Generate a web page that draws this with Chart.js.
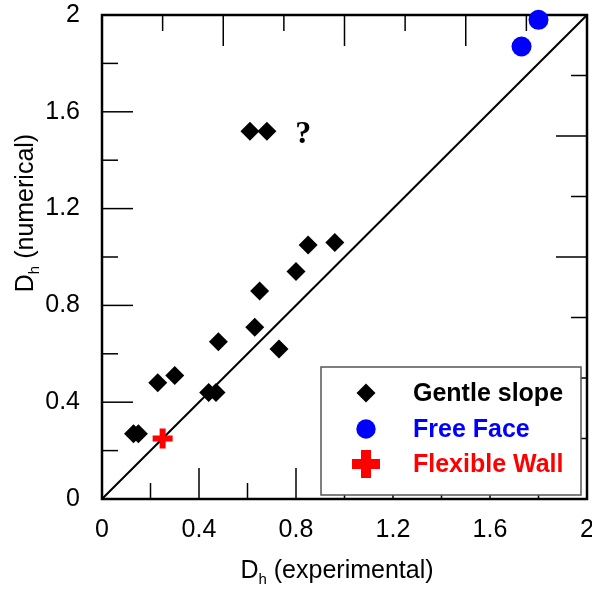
<!DOCTYPE html>
<html lang="en">
<head>
  <meta charset="UTF-8">
  <title>Dh numerical vs experimental</title>
  <script src="https://cdn.jsdelivr.net/npm/chart.js"></script>
</head>
<style>
  body { margin: 0; background: #fff; }
  .chart-container { width: 592px; height: 589px; }
</style>
<body>
  <div class="chart-container">
    <canvas id="chartCanvas" width="592" height="589"></canvas>
  </div>

  <script>
    // valores
    const gentleX = [0.13, 0.15, 0.23, 0.30, 0.44, 0.47, 0.48, 0.63, 0.65, 0.73, 0.80, 0.85, 0.96, 0.61, 0.68];
    const gentleY = [0.27, 0.27, 0.48, 0.51, 0.44, 0.44, 0.65, 0.71, 0.86, 0.62, 0.94, 1.05, 1.06, 1.52, 1.52];
    const freeFaceX = [1.73, 1.80];
    const freeFaceY = [1.87, 1.98];
    const flexWallX = [0.25];
    const flexWallY = [0.25];
    const diagX = [0, 2];
    const diagY = [0, 2];

    const seriesNames = ['Gentle slope', 'Free Face', 'Flexible Wall'];
    const xTitle = ['D', 'h', ' (experimental)'];
    const yTitle = ['D', 'h', ' (numerical)'];
    const note = { x: 0.83, y: 1.47, text: '?' };

    // marcas de los ejes: abajo/izquierda cada 0.2, arriba/derecha cada 0.25
    const bottomMajor = [0.4, 0.8, 1.2, 1.6];
    const bottomMinor = [0.2, 0.6, 1.0, 1.4, 1.8];
    const topMajor = [0.5, 1.0, 1.5];
    const topMinor = [0.25, 0.75, 1.25, 1.75];

    const toPoints = (xs, ys) => xs.map((x, i) => ({ x: x, y: ys[i] }));
    const fmt = v => String(Math.round(v * 10) / 10);

    const FONT = '"Liberation Sans", Arial, sans-serif';

    const framePlugin = {
      id: 'frame',
      beforeDatasetsDraw(chart) {
        const ctx = chart.ctx;
        const a = chart.chartArea;
        const xs = chart.scales.x, ys = chart.scales.y;
        ctx.save();
        ctx.strokeStyle = '#000';
        ctx.lineWidth = 1.5;
        const tick = (vals, len, side) => {
          vals.forEach(v => {
            ctx.beginPath();
            if (side === 'bottom') { const p = xs.getPixelForValue(v); ctx.moveTo(p, a.bottom); ctx.lineTo(p, a.bottom - len); }
            if (side === 'top') { const p = xs.getPixelForValue(v); ctx.moveTo(p, a.top); ctx.lineTo(p, a.top + len); }
            if (side === 'left') { const p = ys.getPixelForValue(v); ctx.moveTo(a.left, p); ctx.lineTo(a.left + len, p); }
            if (side === 'right') { const p = ys.getPixelForValue(v); ctx.moveTo(a.right, p); ctx.lineTo(a.right - len, p); }
            ctx.stroke();
          });
        };
        tick(bottomMajor, 31, 'bottom'); tick(bottomMinor, 16, 'bottom');
        tick(bottomMajor, 31, 'left'); tick(bottomMinor, 16, 'left');
        tick(topMajor, 31, 'top'); tick(topMinor, 16, 'top');
        tick(topMajor, 31, 'right'); tick(topMinor, 16, 'right');
        ctx.lineWidth = 2.5;
        ctx.strokeRect(a.left, a.top, a.right - a.left, a.bottom - a.top);
        ctx.restore();
      },
      afterDatasetsDraw(chart) {
        const ctx = chart.ctx;
        ctx.save();
        ctx.fillStyle = '#000';
        ctx.font = 'bold 32px "Liberation Serif", "Times New Roman", serif';
        ctx.textAlign = 'center';
        ctx.textBaseline = 'alphabetic';
        ctx.fillText(note.text, chart.scales.x.getPixelForValue(note.x), chart.scales.y.getPixelForValue(note.y));
        ctx.restore();
      },
      afterDraw(chart) {
        const ctx = chart.ctx;
        ctx.save();

        // titulos con subindice
        const drawTitle = (parts, cx, by, rotate) => {
          ctx.save();
          ctx.translate(cx, by);
          if (rotate) ctx.rotate(-Math.PI / 2);
          ctx.fillStyle = '#000';
          ctx.textBaseline = 'alphabetic';
          ctx.textAlign = 'left';
          ctx.font = '25px ' + FONT;
          const w0 = ctx.measureText(parts[0]).width;
          const w2 = ctx.measureText(parts[2]).width;
          ctx.font = '15px ' + FONT;
          const w1 = ctx.measureText(parts[1]).width;
          let x = -(w0 + w1 + w2) / 2;
          ctx.font = '25px ' + FONT;
          ctx.fillText(parts[0], x, 0); x += w0;
          ctx.font = '15px ' + FONT;
          ctx.fillText(parts[1], x, 6); x += w1;
          ctx.font = '25px ' + FONT;
          ctx.fillText(parts[2], x, 0);
          ctx.restore();
        };
        drawTitle(xTitle, 337, 578, false);
        drawTitle(yTitle, 33, 213, true);

        // leyenda
        const bx = 321, by = 367, bw = 260, bh = 128;
        ctx.fillStyle = '#fff';
        ctx.fillRect(bx, by, bw, bh);
        ctx.strokeStyle = '#555';
        ctx.lineWidth = 1.5;
        ctx.strokeRect(bx, by, bw, bh);
        const rows = [393, 429, 464];
        const colors = ['#000', '#0000ff', '#ff0000'];
        const mx = 366;
        // rombo
        ctx.fillStyle = '#000';
        ctx.beginPath();
        ctx.moveTo(mx, rows[0] - 9.5); ctx.lineTo(mx + 9.5, rows[0]); ctx.lineTo(mx, rows[0] + 9.5); ctx.lineTo(mx - 9.5, rows[0]);
        ctx.closePath(); ctx.fill();
        // circulo
        ctx.fillStyle = '#0000ff';
        ctx.beginPath(); ctx.arc(mx, rows[1], 9.7, 0, Math.PI * 2); ctx.fill();
        // cruz
        ctx.fillStyle = '#ff0000';
        ctx.fillRect(mx - 14, rows[2] - 5, 28, 10);
        ctx.fillRect(mx - 5, rows[2] - 14, 10, 28);

        ctx.font = 'bold 25px ' + FONT;
        ctx.textAlign = 'left';
        ctx.textBaseline = 'middle';
        seriesNames.forEach((n, i) => {
          ctx.fillStyle = colors[i];
          ctx.fillText(n, 413, rows[i] + 1);
        });
        ctx.restore();
      }
    };

    const ctx = document.getElementById('chartCanvas').getContext('2d');
    const chart = new Chart(ctx, {
      type: 'scatter',
      data: {
        datasets: [{
          label: seriesNames[1],
          data: toPoints(freeFaceX, freeFaceY),
          backgroundColor: '#0000ff',
          borderWidth: 0,
          pointRadius: 10,
          clip: false
        }, {
          label: seriesNames[2],
          data: toPoints(flexWallX, flexWallY),
          pointStyle: 'cross',
          borderColor: '#ff0000',
          borderWidth: 6,
          pointRadius: 10,
          clip: false
        }, {
          label: seriesNames[0],
          data: toPoints(gentleX, gentleY),
          pointStyle: 'rectRot',
          backgroundColor: '#000',
          borderWidth: 0,
          pointRadius: 9.5,
          clip: false
        }, {
          type: 'line',
          label: 'y = x',
          data: toPoints(diagX, diagY),
          borderColor: '#000',
          borderWidth: 2,
          pointRadius: 0,
          fill: false
        }]
      },
      options: {
        responsive: false,
        animation: false,
        events: [],
        layout: { autoPadding: false, padding: { left: 0, top: 15, right: 5, bottom: 0 } },
        plugins: { legend: { display: false }, tooltip: { enabled: false } },
        scales: {
          x: {
            type: 'linear',
            min: 0,
            max: 2,
            grid: { display: false, drawTicks: false },
            border: { display: false },
            ticks: { stepSize: 0.4, padding: 16, color: '#000', font: { size: 25, family: FONT }, callback: fmt },
            afterFit(s) { s.height = 90; s.paddingLeft = 0; s.paddingRight = 0; }
          },
          y: {
            type: 'linear',
            min: 0,
            max: 2,
            grid: { display: false, drawTicks: false },
            border: { display: false },
            ticks: { stepSize: 0.4, padding: 22, color: '#000', font: { size: 25, family: FONT }, callback: fmt },
            afterFit(s) { s.width = 102; s.paddingTop = 0; s.paddingBottom = 0; }
          }
        }
      },
      plugins: [framePlugin]
    });
  </script>
</body>
</html>
